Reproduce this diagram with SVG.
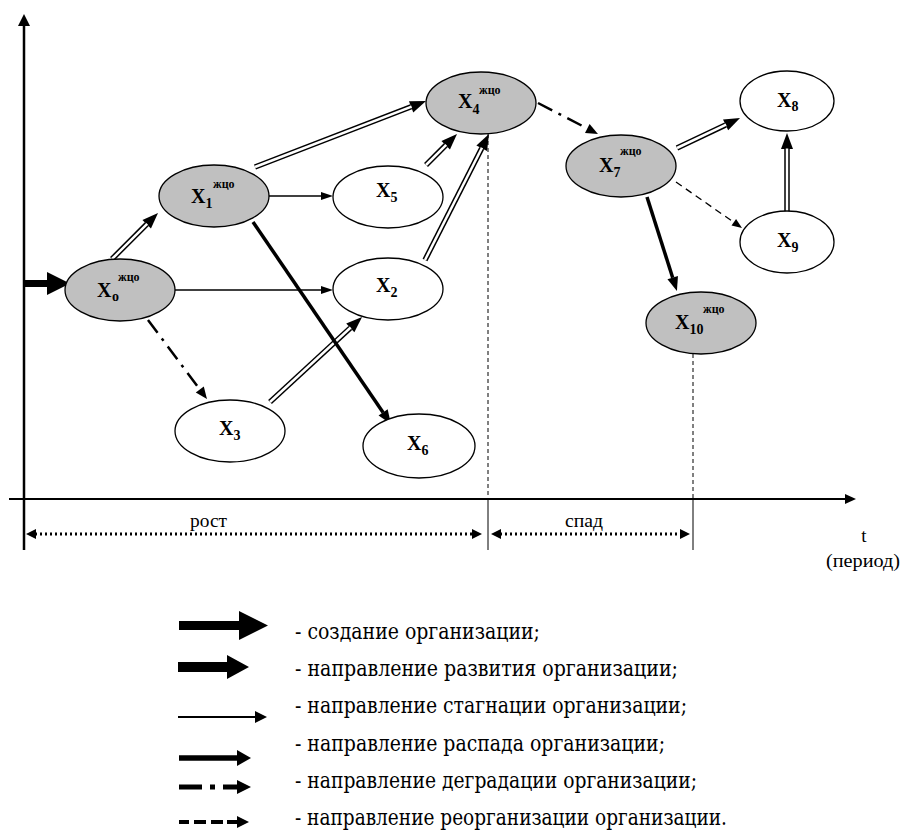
<svg xmlns="http://www.w3.org/2000/svg" width="902" height="834" viewBox="0 0 902 834">
<defs>
<style>
.g{fill:#c0c0c0;stroke:#000;stroke-width:1.3}
.w{fill:#fff;stroke:#000;stroke-width:1.3}
.X{font-family:"Liberation Serif","Times New Roman",serif;font-weight:bold;font-size:20px;fill:#000}
.sb{font-family:"Liberation Serif","Times New Roman",serif;font-weight:bold;font-size:14px;fill:#000}
.sp{font-family:"Liberation Serif","Times New Roman",serif;font-weight:bold;font-size:12px;fill:#000}
.ax{font-family:"Liberation Serif","Times New Roman",serif;font-size:19px;fill:#000}
.lg{font-family:"DejaVu Serif",serif;font-stretch:condensed;font-size:23px;fill:#000}
.dbl{stroke:#000;stroke-width:5.5;fill:none}
.dblw{stroke:#fff;stroke-width:2.5;fill:none}
.thin{stroke:#000;stroke-width:1.5;fill:none}
.thick{stroke:#000;stroke-width:3.5;fill:none}
.dd{stroke:#000;stroke-width:2.5;fill:none;stroke-dasharray:16 7 3 7}
.rd{stroke:#000;stroke-width:1.3;fill:none;stroke-dasharray:7 5}
</style>
<marker id="hd" markerUnits="userSpaceOnUse" markerWidth="16" markerHeight="12" refX="0" refY="6" orient="auto" overflow="visible"><path d="M0,0 L16,6 L0,12 z" fill="#000"/></marker>
<marker id="ht" markerUnits="userSpaceOnUse" markerWidth="14" markerHeight="11" refX="0" refY="5.5" orient="auto" overflow="visible"><path d="M0,0 L14,5.5 L0,11 z" fill="#000"/></marker>
<marker id="hs" markerUnits="userSpaceOnUse" markerWidth="12" markerHeight="8" refX="0" refY="4" orient="auto" overflow="visible"><path d="M0,0 L12,4 L0,8 z" fill="#000"/></marker>
<marker id="hdd" markerUnits="userSpaceOnUse" markerWidth="12" markerHeight="10" refX="0" refY="5" orient="auto" overflow="visible"><path d="M0,0 L12,5 L0,10 z" fill="#000"/></marker>
<marker id="hr" markerUnits="userSpaceOnUse" markerWidth="10" markerHeight="8" refX="0" refY="4" orient="auto" overflow="visible"><path d="M0,0 L10,4 L0,8 z" fill="#000"/></marker>
</defs>
<rect width="902" height="834" fill="#fff"/>

<g id="axes">
<line x1="24" y1="550" x2="24" y2="25" stroke="#000" stroke-width="2.5"/>
<path d="M24,14 L30,26 L18,26 z" fill="#000"/>
<line x1="9" y1="499" x2="846" y2="499" stroke="#000" stroke-width="2.2"/>
<path d="M856,499 L845,494 L845,504 z" fill="#000"/>
<line x1="488" y1="134" x2="488" y2="499" stroke="#000" stroke-width="1" stroke-dasharray="4 3"/>
<line x1="488" y1="499" x2="488" y2="550" stroke="#000" stroke-width="1"/>
<line x1="693" y1="354" x2="693" y2="499" stroke="#000" stroke-width="1" stroke-dasharray="4 3"/>
<line x1="693" y1="499" x2="693" y2="550" stroke="#000" stroke-width="1"/>
<line x1="35" y1="534" x2="473" y2="534" stroke="#000" stroke-width="3" stroke-dasharray="2 3"/>
<path d="M26,534 L36,529 L36,539 z" fill="#000"/>
<path d="M482,534 L472,529 L472,539 z" fill="#000"/>
<line x1="500" y1="534" x2="681" y2="534" stroke="#000" stroke-width="3" stroke-dasharray="2 3"/>
<path d="M491,534 L501,529 L501,539 z" fill="#000"/>
<path d="M690,534 L680,529 L680,539 z" fill="#000"/>
<text class="ax" x="190" y="527" textLength="37" lengthAdjust="spacingAndGlyphs">рост</text>
<text class="ax" x="565" y="527" textLength="38" lengthAdjust="spacingAndGlyphs">спад</text>
<text class="ax" x="864" y="542" text-anchor="middle">t</text>
<text class="ax" x="826" y="567" textLength="74" lengthAdjust="spacingAndGlyphs">(период)</text>
</g>

<g id="connectors">
<path d="M24,283.5 L48,283.5" stroke="#000" stroke-width="7"/>
<path d="M70,283.5 L47,272 L47,295 z" fill="#000"/>
<line class="dbl" x1="112" y1="259" x2="146.7" y2="224.3" marker-end="url(#hd)"/>
<line class="dblw" x1="112" y1="259" x2="147.2" y2="223.8"/>
<line class="dbl" x1="255" y1="167" x2="411.1" y2="106.8" marker-end="url(#hd)"/>
<line class="dblw" x1="255" y1="167" x2="411.6" y2="106.6"/>
<line class="dbl" x1="426" y1="165" x2="445.7" y2="145.3" marker-end="url(#hd)"/>
<line class="dblw" x1="426" y1="165" x2="446.2" y2="144.8"/>
<line class="dbl" x1="425" y1="260" x2="481.75" y2="148.3" marker-end="url(#hd)"/>
<line class="dblw" x1="425" y1="260" x2="482" y2="147.8"/>
<line class="dbl" x1="270" y1="402" x2="350.3" y2="327.9" marker-end="url(#hd)"/>
<line class="dblw" x1="270" y1="402" x2="350.7" y2="327.5"/>
<line class="dbl" x1="677" y1="148" x2="725.6" y2="124.9" marker-end="url(#hd)"/>
<line class="dblw" x1="677" y1="148" x2="726.1" y2="124.7"/>
<line class="dbl" x1="787" y1="212" x2="787" y2="149" marker-end="url(#hd)"/>
<line class="dblw" x1="787" y1="212" x2="787" y2="148.5"/>
<line class="thin" x1="175" y1="290" x2="321" y2="290" marker-end="url(#hs)"/>
<line class="thin" x1="269" y1="196" x2="321" y2="196" marker-end="url(#hs)"/>
<line class="thick" x1="253" y1="222" x2="383.1" y2="412.4" marker-end="url(#ht)"/>
<line class="thick" x1="647" y1="197" x2="672.7" y2="277.7" marker-end="url(#ht)"/>
<line class="dd" x1="148" y1="320" x2="199.8" y2="389.4" marker-end="url(#hdd)"/>
<line class="dd" x1="538" y1="103" x2="587.3" y2="128.5" marker-end="url(#hdd)"/>
<line class="rd" x1="676" y1="182" x2="733.8" y2="222.3" marker-end="url(#hr)"/>
</g>

<g id="X0"><ellipse class="g" cx="120" cy="290" rx="55" ry="31"/><text class="X" x="97" y="297">X</text><text class="sb" x="112" y="301">o</text><text class="sp" x="118" y="281">жцо</text></g>
<g id="X1"><ellipse class="g" cx="214" cy="196" rx="55" ry="31"/><text class="X" x="191" y="203">X</text><text class="sb" x="205.5" y="208">1</text><text class="sp" x="213" y="188">жцо</text></g>
<g id="X4"><ellipse class="g" cx="481" cy="103" rx="55" ry="31"/><text class="X" x="458" y="108">X</text><text class="sb" x="472.5" y="114">4</text><text class="sp" x="479" y="94">жцо</text></g>
<g id="X7"><ellipse class="g" cx="621" cy="166" rx="55" ry="31"/><text class="X" x="599" y="172">X</text><text class="sb" x="613.5" y="177">7</text><text class="sp" x="620" y="155">жцо</text></g>
<g id="X10"><ellipse class="g" cx="701" cy="323" rx="55" ry="31"/><text class="X" x="675" y="329">X</text><text class="sb" x="689.5" y="334">10</text><text class="sp" x="703" y="313">жцо</text></g>
<g id="X5"><ellipse class="w" cx="388" cy="197" rx="55" ry="31"/><text class="X" x="376" y="197">X</text><text class="sb" x="390.5" y="202">5</text></g>
<g id="X2"><ellipse class="w" cx="388" cy="289" rx="55" ry="31"/><text class="X" x="376" y="292">X</text><text class="sb" x="390.5" y="297">2</text></g>
<g id="X3"><ellipse class="w" cx="230" cy="431" rx="55" ry="31"/><text class="X" x="219" y="435">X</text><text class="sb" x="233.5" y="440">3</text></g>
<g id="X6"><ellipse class="w" cx="419" cy="446" rx="56" ry="32"/><text class="X" x="407" y="450">X</text><text class="sb" x="421.5" y="455">6</text></g>
<g id="X8"><ellipse class="w" cx="787" cy="101" rx="47" ry="30"/><text class="X" x="777" y="107">X</text><text class="sb" x="791.5" y="111">8</text></g>
<g id="X9"><ellipse class="w" cx="787" cy="242" rx="47" ry="31"/><text class="X" x="777" y="247">X</text><text class="sb" x="791.5" y="252">9</text></g>

<g id="legend">
<path d="M179,621 L239,621 L239,611 L268,625.5 L239,640 L239,630 L179,630 z" fill="#000"/>
<path d="M178,662 L227,662 L227,655 L249,667 L227,679 L227,672 L178,672 z" fill="#000"/>
<line x1="178" y1="717" x2="256" y2="717" stroke="#000" stroke-width="2"/>
<path d="M267,717 L255,711 L255,723 z" fill="#000"/>
<line x1="179" y1="758" x2="238" y2="758" stroke="#000" stroke-width="5.5"/>
<path d="M251,758 L237,750 L237,766 z" fill="#000"/>
<line x1="179" y1="787" x2="238" y2="787" stroke="#000" stroke-width="5" stroke-dasharray="23 8 5 8 16"/>
<path d="M251,787 L237,780 L237,794 z" fill="#000"/>
<line x1="179" y1="822" x2="238" y2="822" stroke="#000" stroke-width="4" stroke-dasharray="10 5 12 5 12 4 12"/>
<path d="M249,822 L237,816 L237,828 z" fill="#000"/>
<text class="lg" x="295" y="639" textLength="245" lengthAdjust="spacingAndGlyphs">- создание организации;</text>
<text class="lg" x="295" y="676" textLength="383" lengthAdjust="spacingAndGlyphs">- направление развития организации;</text>
<text class="lg" x="295" y="713" textLength="392" lengthAdjust="spacingAndGlyphs">- направление стагнации организации;</text>
<text class="lg" x="295" y="751" textLength="370" lengthAdjust="spacingAndGlyphs">- направление распада организации;</text>
<text class="lg" x="295" y="788" textLength="402" lengthAdjust="spacingAndGlyphs">- направление деградации организации;</text>
<text class="lg" x="295" y="825" textLength="432" lengthAdjust="spacingAndGlyphs">- направление реорганизации организации.</text>
</g>
</svg>
